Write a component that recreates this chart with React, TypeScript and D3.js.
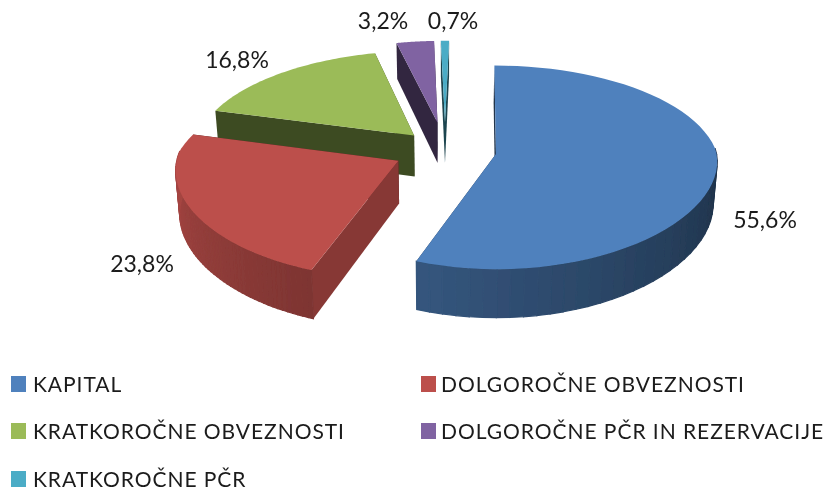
import React from "react";
import * as d3 from "d3";

const categories = ["KAPITAL", "DOLGOROČNE OBVEZNOSTI", "KRATKOROČNE OBVEZNOSTI", "DOLGOROČNE PČR IN REZERVACIJE", "KRATKOROČNE PČR"];
const values = [55.6, 23.8, 16.8, 3.2, 0.7];
const valueLabels = ["55,6%", "23,8%", "16,8%", "3,2%", "0,7%"];
const explosions = [0.235, 0.235, 0.21, 0.29, 0.29];
const colors = ["#4f81bd", "#bc4f4b", "#9bbb59", "#8064a2", "#4bacc6"];

const W = 825, H = 489;
const CX = 445, CY = 150, RX = 220, RY = 99, KY = 0.13, VX = 482, KX_BACK = 0.13, KX_FRONT = 0.07, DEPTH = 42, BASE_SCALE = 0.985;
const FONT = "Lato, 'Open Sans', sans-serif";

const labelPos: [number, number][] = [[765, 228], [142, 272], [237, 68], [383, 29], [453, 29]];
const legendPos: [number, number, number][] = [[11, 384, 22], [421, 384, 20], [11, 431, 22], [421, 431, 20], [11, 479, 22]];

const rad = (deg: number) => (deg * Math.PI) / 180;
const angleScale = d3.scaleLinear().domain([0, d3.sum(values)]).range([0, 360]);
const wallShade = d3.scaleLinear().domain([90, 200, 270]).range([0.38, 0.67, 0.88]).clamp(true);

function project(u: number, v: number) {
  const py = 1 / (1 - KY * v);
  const px = 1 / (1 - (v < 0 ? KX_BACK : KX_FRONT) * v);
  const flat = CX + RX * u;
  return { x: VX + (flat - VX) * px, y: CY + RY * v * py, p: py };
}
function base(u: number, v: number): [number, number] {
  const t = project(u, v);
  return [CX + (t.x - CX) * BASE_SCALE, t.y + DEPTH * t.p];
}
function top(u: number, v: number): [number, number] {
  const t = project(u, v);
  return [t.x, t.y];
}
const shade = (c: string, f: number) => {
  const r = d3.rgb(c);
  return d3.rgb(r.r * f, r.g * f, r.b * f).formatHex();
};
const poly = d3.line();

let acc = 0;
const slices = values.map((val, i) => {
  const a0 = angleScale(acc);
  acc += val;
  const a1 = angleScale(acc);
  const mid = rad((a0 + a1) / 2);
  const e = explosions[i];
  const ou = Math.sin(mid) * e, ov = -Math.cos(mid) * e;
  const rim = d3.range(0, 61).map((s) => {
    const a = a0 + ((a1 - a0) * s) / 60;
    return { a, u: ou + Math.sin(rad(a)), v: ov - Math.cos(rad(a)) };
  });
  return { i, a0, a1, ou, ov, rim };
});
const order = [4, 3, 2, 1, 0];

export default function App() {
  return (
    <svg width={W} height={H} style={{ position: "absolute", left: 0, top: 0 }} fontFamily={FONT}>
      <defs>
        <filter id="soft"><feGaussianBlur stdDeviation="0.45" /></filter>
      </defs>
      <g filter="url(#soft)">
        {order.map((idx) => {
          const s = slices[idx];
          const col = colors[idx];
          const faceF = s.a0 > 90 && s.a0 < 270 ? 0.72 : 0.4;
          const first = s.rim[0];
          const last = s.rim[s.rim.length - 1];
          const radial = (r: { u: number; v: number }) =>
            poly([top(s.ou, s.ov), top(r.u, r.v), base(r.u, r.v), base(s.ou, s.ov)]) + "Z";
          return (
            <g key={idx}>
              <path d={radial(last)} fill={shade(col, 0.4)} />
              <path d={radial(first)} fill={shade(col, faceF)} />
              {s.rim.slice(0, -1).map((r, j) => {
                const n = s.rim[j + 1];
                if (r.a < 85 || r.a > 275) return null;
                const f = shade(col, wallShade(r.a));
                return (
                  <path key={j} d={poly([top(r.u, r.v), top(n.u, n.v), base(n.u, n.v), base(r.u, r.v)]) + "Z"} fill={f} stroke={f} strokeWidth={1.2} />
                );
              })}
              <path d={poly([top(s.ou, s.ov), ...s.rim.map((r) => top(r.u, r.v))]) + "Z"} fill={col} />
            </g>
          );
        })}
      </g>
      <g filter="url(#soft)" fill="#1a1a1a">
        {valueLabels.map((t, i) => (
          <text key={t} x={labelPos[i][0]} y={labelPos[i][1]} textAnchor="middle" fontSize={23}>{t}</text>
        ))}
        {categories.map((c, i) => (
          <g key={c}>
            <rect x={legendPos[i][0]} y={legendPos[i][1] - 8} width={15} height={16} fill={colors[i]} />
            <text x={legendPos[i][0] + legendPos[i][2]} y={legendPos[i][1] + 8} fontSize={21} letterSpacing={0.95}>{c}</text>
          </g>
        ))}
      </g>
    </svg>
  );
}
